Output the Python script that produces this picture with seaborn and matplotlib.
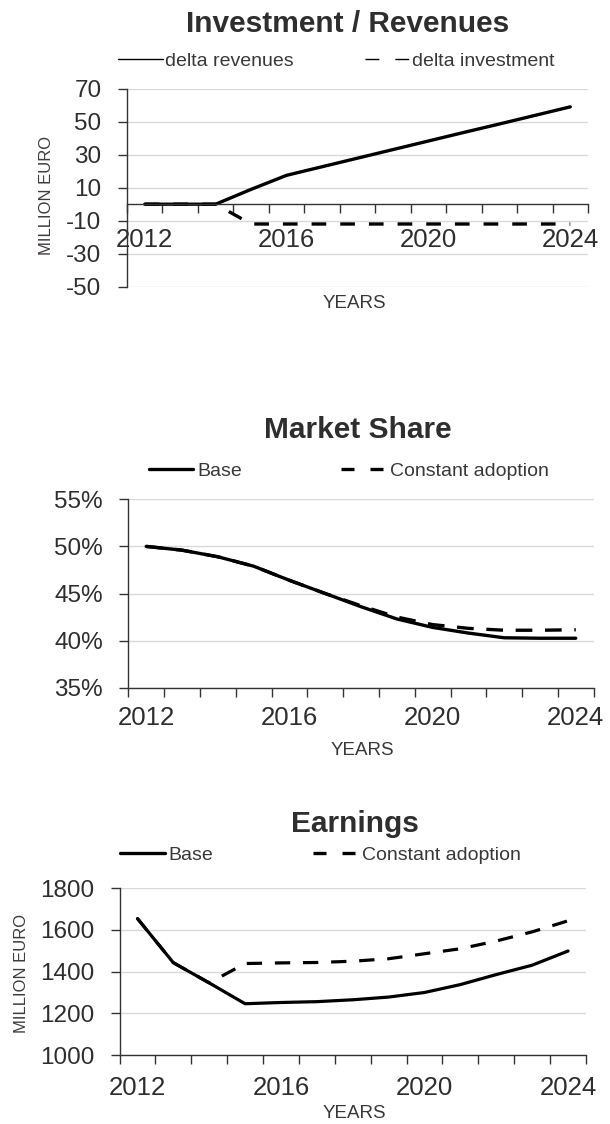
import numpy as np
import pandas as pd
import matplotlib
matplotlib.use("Agg")
import matplotlib.pyplot as plt
from matplotlib.lines import Line2D
from matplotlib.ticker import FixedLocator, FixedFormatter, NullFormatter, FuncFormatter
import seaborn as sns

# ---- data -------------------------------------------------------------
years = list(range(2012, 2025))
year_labels = ["2012", "2016", "2020", "2024"]

delta_revenues = [0, 0, 0, 9, 17.5, 22.7, 27.9, 33.1, 38.3, 43.5, 48.6, 53.8, 59]
delta_investment = [0, 0, 0, -12, -12, -12, -12, -12, -12, -12, -12, -12, -12]

share_base = [50.0, 49.6, 48.9, 47.9, 46.4, 45.0, 43.6, 42.3, 41.4, 40.8, 40.3, 40.25, 40.25]
share_constant = [50.0, 49.6, 48.9, 47.9, 46.4, 45.0, 43.7, 42.5, 41.7, 41.3, 41.1, 41.1, 41.15]

earnings_base = [1655, 1443, 1346, 1246, 1252, 1256, 1265, 1278, 1300, 1338, 1386, 1431, 1499]
earnings_constant = [1655, 1443, 1346, 1439, 1442, 1444, 1450, 1462, 1486, 1510, 1547, 1591, 1644]

# ---- style ------------------------------------------------------------
sns.set_theme(style="white")
plt.rcParams["font.family"] = ["Liberation Sans", "DejaVu Sans"]
plt.rcParams["axes.unicode_minus"] = False

TEXT = "#2e2e2e"
LEG_TEXT = "#383838"
AXIS = "#333333"
GRID = "#d9d9d9"

W, H = 610, 1124
fig = plt.figure(figsize=(W / 100, H / 100), dpi=100)


def px_axes(left, right, top, bottom):
    return fig.add_axes([left / W, 1 - bottom / H, (right - left) / W, (bottom - top) / H])


def draw_lines(ax, series, dashes, lw):
    frames = [pd.DataFrame({"year": years, "value": vals, "series": name})
              for name, vals in series.items()]
    df = pd.concat(frames, ignore_index=True)
    sns.lineplot(data=df, x="year", y="value", style="series",
                 style_order=list(series), dashes=dashes, color="black",
                 linewidth=lw, legend=False, ax=ax, estimator=None, sort=False)
    for line in ax.get_lines():
        line.set_solid_capstyle("round")


def style_axis(ax, yticks, xpad, ypad, yfmt=None):
    ax.set_xlim(years[0] - 0.5, years[-1] + 0.5)
    ax.set_ylim(yticks[0], yticks[-1])
    ax.set_yticks(yticks)
    if yfmt is not None:
        ax.yaxis.set_major_formatter(yfmt)
    # category boundaries carry the tick marks, labels sit on category centres
    ax.xaxis.set_major_locator(FixedLocator(np.arange(years[0] - 0.5, years[-1] + 1, 1)))
    ax.xaxis.set_major_formatter(NullFormatter())
    ax.xaxis.set_minor_locator(FixedLocator([int(y) for y in year_labels]))
    ax.xaxis.set_minor_formatter(FixedFormatter(year_labels))
    ax.tick_params(axis="x", which="major", bottom=True, direction="out",
                   length=6.3, width=1.0, color=AXIS)
    ax.tick_params(axis="x", which="minor", bottom=True, length=0, pad=xpad,
                   labelsize=18.5, labelcolor=TEXT)
    ax.tick_params(axis="y", which="major", left=True, direction="out",
                   length=6.3, width=1.0, color=AXIS, pad=ypad,
                   labelsize=17.5, labelcolor=TEXT)
    ax.yaxis.grid(True, color=GRID, linewidth=1.0)
    ax.xaxis.grid(False)
    ax.set_axisbelow(True)
    for side in ("top", "right"):
        ax.spines[side].set_visible(False)
    for side in ("left", "bottom"):
        ax.spines[side].set_color(AXIS)
        ax.spines[side].set_linewidth(1.0)
    ax.set_xlabel("")
    ax.set_ylabel("")


def add_legend(ax, handles, labels, x, y, colspace, textpad):
    ax.legend(handles, labels, loc="center left",
              bbox_to_anchor=(x / W, 1 - y / H), bbox_transform=fig.transFigure,
              ncol=2, frameon=False, fontsize=14, labelcolor=LEG_TEXT,
              handlelength=2.3, handletextpad=textpad, columnspacing=colspace,
              borderpad=0, borderaxespad=0)


def set_xlabel(ax, x, y):
    ax.set_xlabel("YEARS", fontsize=13.5, color=LEG_TEXT)
    ax.xaxis.label.set_verticalalignment("baseline")
    ax.xaxis.set_label_coords(x / W, 1 - y / H, transform=fig.transFigure)


def set_ylabel(ax, x, y):
    ax.set_ylabel("MILLION EURO", fontsize=12, color="#3f3a3f")
    ax.yaxis.label.set_verticalalignment("center")
    ax.yaxis.label.set_horizontalalignment("center")
    ax.yaxis.set_label_coords(x / W, 1 - y / H, transform=fig.transFigure)


def title(text, x, y):
    fig.text(x / W, 1 - y / H, text, ha="center", va="baseline",
             fontsize=21.5, fontweight="bold", color=TEXT)


# ---- Investment / Revenues -------------------------------------------
ax1 = px_axes(127, 588, 88.7, 286.7)
draw_lines(ax1, {"delta investment": delta_investment, "delta revenues": delta_revenues},
           {"delta investment": (4.4, 4.2), "delta revenues": ""}, 2.4)
style_axis(ax1, [-50, -30, -10, 10, 30, 50, 70], xpad=17, ypad=12)
ax1.spines["bottom"].set_position(("data", 0))
title("Investment / Revenues", 348, 32.3)
add_legend(ax1,
           [Line2D([], [], color="black", lw=1.0),
            Line2D([], [], color="black", lw=1.0, dashes=(10, 11.5))],
           ["delta revenues", "delta investment"], 118.3, 60.7, 3.65, 0.12)
set_xlabel(ax1, 354, 308.3)
set_ylabel(ax1, 46.7, 195)

# ---- Market Share ------------------------------------------------------
ax2 = px_axes(128.3, 593.7, 499.3, 687.7)
draw_lines(ax2, {"Constant adoption": share_constant, "Base": share_base},
           {"Constant adoption": (5.0, 3.8), "Base": ""}, 2.4)
style_axis(ax2, [35, 40, 45, 50, 55], xpad=13.5, ypad=12,
           yfmt=FuncFormatter(lambda v, _: f"{v:.0f}%"))
title("Market Share", 358, 438.3)
add_legend(ax2,
           [Line2D([], [], color="black", lw=2.4),
            Line2D([], [], color="black", lw=2.4, dashes=(3.9, 4.8))],
           ["Base", "Constant adoption"], 148.5, 471, 5.1, 0.2)
set_xlabel(ax2, 362, 755)

# ---- Earnings ----------------------------------------------------------
ax3 = px_axes(119.5, 586, 888.3, 1055)
draw_lines(ax3, {"Constant adoption": earnings_constant, "Base": earnings_base},
           {"Constant adoption": (4.8, 4.0), "Base": ""}, 2.3)
style_axis(ax3, [1000, 1200, 1400, 1600, 1800], xpad=15, ypad=12)
title("Earnings", 355, 832.3)
add_legend(ax3,
           [Line2D([], [], color="black", lw=2.4),
            Line2D([], [], color="black", lw=2.4, dashes=(3.9, 4.8))],
           ["Base", "Constant adoption"], 120, 855, 5.14, 0.2)
set_xlabel(ax3, 354, 1118)
set_ylabel(ax3, 21.3, 973)

fig.savefig("out.png", dpi=100)
